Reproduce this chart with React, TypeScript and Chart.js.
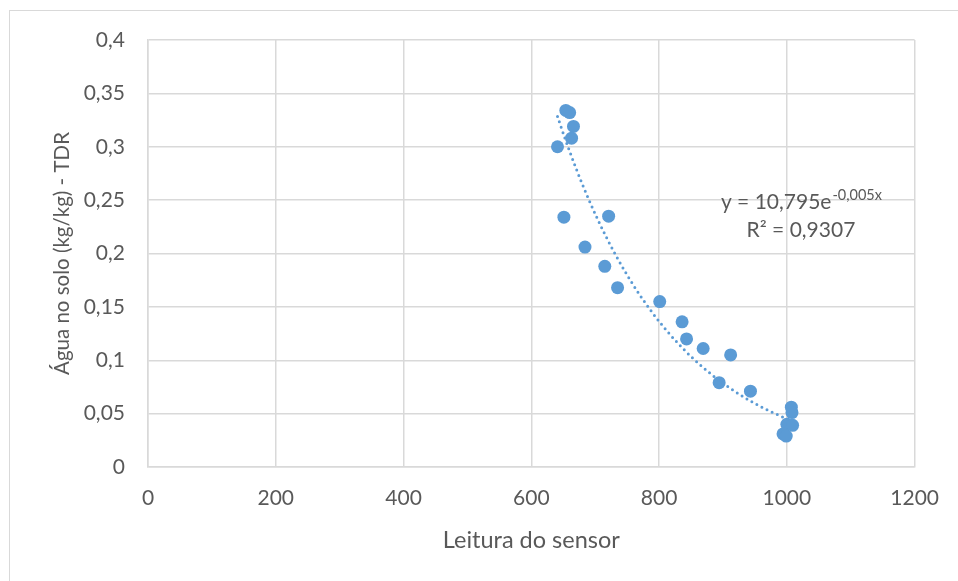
import React, { useEffect, useRef } from "react";
import { Chart, registerables } from "chart.js";

Chart.register(...registerables);

// ---- data ----
const sensorReading = [654, 660, 666, 663, 641, 651, 721, 684, 715, 735, 801, 836, 843, 869, 912, 894, 943, 1007, 1008, 1000, 1009, 994, 999];
const soilWater = [0.334, 0.332, 0.319, 0.308, 0.3, 0.234, 0.235, 0.206, 0.188, 0.168, 0.155, 0.136, 0.12, 0.111, 0.105, 0.079, 0.071, 0.056, 0.051, 0.04, 0.039, 0.031, 0.029];
const xTicks = [0, 200, 400, 600, 800, 1000, 1200];
const yTicks = [0, 0.05, 0.1, 0.15, 0.2, 0.25, 0.3, 0.35, 0.4];
const xTitle = "Leitura do sensor";
const yTitle = "Água no solo (kg/kg) - TDR";
const equationMain = "y = 10,795e";
const equationSup = "-0,005x";
const equationR2 = "R² = 0,9307";

// exponential least-squares fit (like a spreadsheet trendline)
function expFit(xs: number[], ys: number[]) {
  const n = xs.length;
  let sx = 0, sl = 0, sxx = 0, sxl = 0;
  for (let i = 0; i < n; i++) {
    const l = Math.log(ys[i]);
    sx += xs[i]; sl += l; sxx += xs[i] * xs[i]; sxl += xs[i] * l;
  }
  const b = (n * sxl - sx * sl) / (n * sxx - sx * sx);
  const a = Math.exp(sl / n - b * sx / n);
  return { a, b };
}

const TEXT = "#595959";
const GRID = "#d9d9d9";
const BLUE = "#5B9BD5";
const FONT = "Lato";

const fmt = (v: number) => String(Number(v.toFixed(2))).replace(".", ",");

const equationPlugin = {
  id: "equationLabel",
  afterDatasetsDraw(chart: any) {
    const { ctx, scales } = chart;
    const cx = scales.x.getPixelForValue(1022);
    const y1 = scales.y.getPixelForValue(0.2417);
    ctx.save();
    ctx.fillStyle = TEXT;
    ctx.textBaseline = "alphabetic";
    ctx.font = `21px ${FONT}`;
    const w1 = ctx.measureText(equationMain).width;
    ctx.font = `14.5px ${FONT}`;
    const w2 = ctx.measureText(equationSup).width;
    const start = cx - (w1 + w2) / 2;
    ctx.textAlign = "left";
    ctx.font = `21px ${FONT}`;
    ctx.fillText(equationMain, start, y1);
    ctx.font = `14.5px ${FONT}`;
    ctx.fillText(equationSup, start + w1 + 1, y1 - 9);
    ctx.font = `21px ${FONT}`;
    ctx.textAlign = "center";
    ctx.fillText(equationR2, cx, y1 + 28);
    ctx.restore();
  },
};

export default function App() {
  const ref = useRef<HTMLCanvasElement | null>(null);

  useEffect(() => {
    if (!ref.current) return;
    const { a, b } = expFit(sensorReading, soilWater);
    const minX = Math.min(...sensorReading);
    const maxX = Math.max(...sensorReading);
    const trend: { x: number; y: number }[] = [];
    const steps = 80;
    for (let i = 0; i <= steps; i++) {
      const x = minX + ((maxX - minX) * i) / steps;
      trend.push({ x, y: a * Math.exp(b * x) });
    }
    const points = sensorReading.map((x, i) => ({ x, y: soilWater[i] }));

    const chart = new Chart(ref.current, {
      type: "scatter",
      data: {
        datasets: [
          {
            label: "trend",
            data: trend,
            showLine: true,
            pointRadius: 0,
            borderColor: BLUE,
            borderWidth: 3,
            borderDash: [0, 5.7],
            borderCapStyle: "round",
            fill: false,
            order: 0,
          } as any,
          {
            label: "data",
            data: points,
            pointRadius: 6.5,
            pointBackgroundColor: BLUE,
            pointBorderColor: BLUE,
            pointBorderWidth: 0,
            order: 1,
          },
        ],
      },
      options: {
        animation: false,
        responsive: false,
        maintainAspectRatio: false,
        layout: { padding: { left: 0, top: 40, right: 41, bottom: 0 } },
        plugins: { legend: { display: false }, tooltip: { enabled: false } },
        scales: {
          x: {
            type: "linear",
            min: 0,
            max: 1200,
            afterBuildTicks: (s: any) => { s.ticks = xTicks.map((v) => ({ value: v })); },
            afterFit: (s: any) => { s.height = 114; },
            grid: { color: GRID, lineWidth: 1.5, drawTicks: false },
            border: { color: GRID, width: 1.5 },
            ticks: {
              color: TEXT,
              font: { family: FONT, size: 21 },
              padding: 19,
              callback: (v: any) => String(v),
            },
            title: {
              display: true,
              text: xTitle,
              color: TEXT,
              font: { family: FONT, size: 23.5 },
              padding: { top: 0, bottom: 26 },
            },
          },
          y: {
            type: "linear",
            min: 0,
            max: 0.4,
            afterBuildTicks: (s: any) => { s.ticks = yTicks.map((v) => ({ value: v })); },
            afterFit: (s: any) => { s.width = 148; },
            grid: { color: GRID, lineWidth: 1.5, drawTicks: false },
            border: { color: GRID, width: 1.5 },
            ticks: {
              color: TEXT,
              font: { family: FONT, size: 21 },
              padding: 23,
              callback: (v: any) => fmt(Number(v)),
            },
            title: {
              display: true,
              text: yTitle,
              color: TEXT,
              font: { family: FONT, size: 20.5 },
              padding: { top: 50, bottom: 0 },
            },
          },
        },
      },
      plugins: [equationPlugin],
    });
    return () => chart.destroy();
  }, []);

  return (
    <div style={{ position: "fixed", left: 0, top: 0, width: 958, height: 581, background: "#fff", overflow: "hidden" }}>
      <div style={{ position: "absolute", left: 9, top: 10, width: 2000, height: 2000, borderLeft: `1px solid ${GRID}`, borderTop: `1px solid ${GRID}` }} />
      <canvas ref={ref} width={958} height={581} style={{ position: "absolute", left: 0, top: 0, width: 958, height: 581 }} />
    </div>
  );
}
